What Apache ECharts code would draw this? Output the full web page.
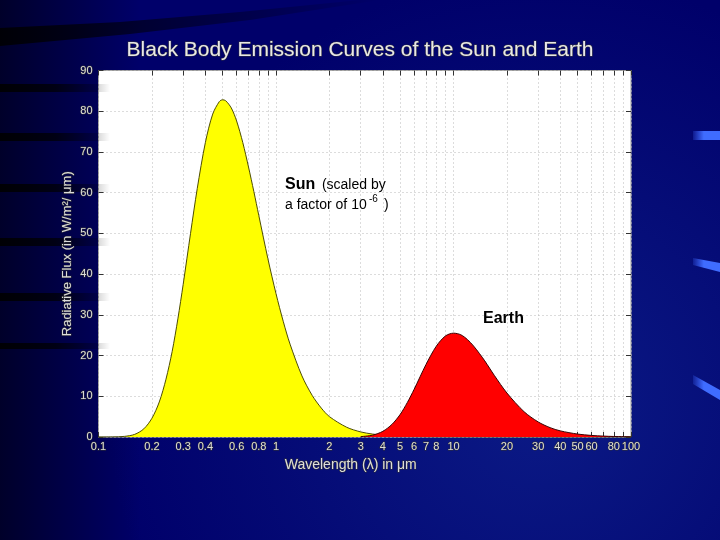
<!DOCTYPE html>
<html>
<head>
<meta charset="utf-8">
<script src="https://cdn.jsdelivr.net/npm/echarts@6/dist/echarts.min.js"></script>
<style>html,body{margin:0;padding:0;background:#00006e;}#chart{width:720px;height:540px;}</style>
</head>
<body>
<div id="chart"></div>
<script>
// ---- data ----
var sunWavelength = [0.1, 0.12, 0.14, 0.16, 0.18, 0.2, 0.22, 0.24, 0.26, 0.28, 0.3, 0.33, 0.36, 0.4, 0.44, 0.48, 0.5, 0.52, 0.56, 0.6, 0.65, 0.7, 0.75, 0.8, 0.9, 1.0, 1.1, 1.2, 1.4, 1.6, 1.8, 2, 2.5, 3, 3.5, 4, 5, 6, 8, 10, 20, 50, 100];
var sunFlux = [0.0, 0.02, 0.15, 0.65, 2.0, 4.6, 8.6, 14.2, 21.0, 29.0, 37.5, 50.0, 61.0, 72.3, 79.3, 82.4, 82.8, 82.6, 80.8, 77.6, 72.3, 66.3, 60.3, 54.4, 43.8, 35.2, 28.3, 22.8, 15.0, 10.2, 7.1, 5.0, 2.4, 1.25, 0.72, 0.44, 0.19, 0.095, 0.031, 0.013, 0.001, 0.0, 0.0];
var earthWavelength = [3, 3.5, 4, 4.5, 5, 5.5, 6, 7, 8, 9, 10, 11, 12, 13, 14, 15, 17, 20, 25, 30, 35, 40, 50, 60, 70, 80, 100];
var earthFlux = [0.09, 0.45, 1.4, 3.1, 5.5, 8.5, 11.7, 17.8, 22.3, 24.8, 25.5, 25.1, 23.9, 22.3, 20.5, 18.7, 15.1, 10.8, 6.2, 3.7, 2.3, 1.5, 0.72, 0.38, 0.22, 0.13, 0.06];
var xTickLabels = [0.1, 0.2, 0.3, 0.4, 0.6, 0.8, 1, 2, 3, 4, 5, 6, 7, 8, 10, 20, 30, 40, 50, 60, 80, 100];
var xMinorTicks = [0.1, 0.2, 0.3, 0.4, 0.5, 0.6, 0.7, 0.8, 0.9, 1, 2, 3, 4, 5, 6, 7, 8, 9, 10, 20, 30, 40, 50, 60, 70, 80, 90, 100];
var yTicks = [0, 10, 20, 30, 40, 50, 60, 70, 80, 90];

var chart = echarts.init(document.getElementById('chart'), null, {renderer: 'canvas'});

function pairs(xs, ys) { return xs.map(function (x, i) { return [x, ys[i]]; }); }
function lg(v) { return Math.log10(v); }
function fmtX(v) { return String(parseFloat(Math.pow(10, v).toPrecision(3))); }

var FONT = 'Liberation Sans, Arial, sans-serif';
var labelStyle = {
  color: '#dcdcdc', fontFamily: FONT, fontSize: 11,
  textBorderColor: '#333', textBorderWidth: 1
};

var GL = 98.5, GR = 631, GT = 70.5, GB = 437;

var option = {
  backgroundColor: '#00006e',
  animation: false,
  title: {
    text: 'Black Body Emission Curves of the Sun and Earth',
    left: 'center', top: 35,
    textStyle: {
      color: '#e8e8e8', fontFamily: FONT, fontSize: 21, fontWeight: 'normal',
      textBorderColor: '#3a3a3a', textBorderWidth: 1
    }
  },
  grid: {
    left: GL, right: 720 - GR, top: GT, bottom: 540 - GB,
    show: true, backgroundColor: '#ffffff', borderColor: '#9a9a9a', borderWidth: 1
  },
  xAxis: [
    { // data axis (log scale)
      type: 'log', logBase: 10, min: 0.1, max: 100,
      axisLine: {show: false, onZero: false}, axisTick: {show: false}, axisLabel: {show: false}, splitLine: {show: false}
    },
    { // bottom tick/label axis, positioned in log10 space
      type: 'value', min: -1, max: 2, position: 'bottom',
      name: 'Wavelength (λ) in μm', nameLocation: 'middle', nameGap: 20,
      nameTextStyle: Object.assign({}, labelStyle, {fontSize: 14, padding: [0, 28, 0, 0]}),
      axisLine: {show: false, onZero: false},
      axisTick: {show: true, inside: true, length: 5, customValues: xMinorTicks.map(lg), lineStyle: {color: '#333'}},
      axisLabel: Object.assign({}, labelStyle, {customValues: xTickLabels.map(lg), formatter: fmtX, margin: 4, showMinLabel: true, showMaxLabel: true}),
      splitLine: {show: true, lineStyle: {color: '#b8b8b8', type: [1, 3], width: 1}}
    },
    { // top ticks
      type: 'value', min: -1, max: 2, position: 'top',
      axisLine: {show: false, onZero: false},
      axisTick: {show: true, inside: true, length: 5, customValues: xMinorTicks.map(lg), lineStyle: {color: '#333'}},
      axisLabel: {show: false}, splitLine: {show: false}
    }
  ],
  yAxis: [
    {
      type: 'value', min: 0, max: 90, interval: 10, position: 'left',
      name: 'Radiative Flux (in W/m²/ μm)', nameLocation: 'middle', nameGap: 25, nameRotate: 90,
      nameMoveOverlap: false,
      nameTextStyle: Object.assign({}, labelStyle, {fontSize: 13}),
      axisLine: {show: false, onZero: false},
      axisTick: {show: true, inside: true, length: 5, lineStyle: {color: '#333'}},
      axisLabel: Object.assign({}, labelStyle, {margin: 6}),
      splitLine: {show: true, lineStyle: {color: '#b8b8b8', type: [1, 3], width: 1}}
    },
    {
      type: 'value', min: 0, max: 90, interval: 10, position: 'right',
      axisLine: {show: false, onZero: false},
      axisTick: {show: true, inside: true, length: 5, lineStyle: {color: '#333'}},
      axisLabel: {show: false}, splitLine: {show: false}
    }
  ],
  series: [
    {
      name: 'Sun', type: 'line', xAxisIndex: 0, yAxisIndex: 0,
      data: pairs(sunWavelength, sunFlux), smooth: 0.3, showSymbol: false,
      lineStyle: {color: '#4d4d00', width: 1},
      areaStyle: {color: '#ffff00', opacity: 1}, z: 3
    },
    {
      name: 'Earth', type: 'line', xAxisIndex: 0, yAxisIndex: 0,
      data: pairs(earthWavelength, earthFlux), smooth: 0.3, showSymbol: false,
      lineStyle: {color: '#3a0000', width: 1},
      areaStyle: {color: '#ff0000', opacity: 1}, z: 4
    }
  ],
  graphic: [
    // background shading
    {type: 'rect', z: -20, silent: true, shape: {x: 0, y: 0, width: 720, height: 540},
     style: {fill: new echarts.graphic.RadialGradient(0.75, 0.75, 0.8, [{offset: 0, color: '#0b1a86'}, {offset: 1, color: '#00006a'}])}},
    {type: 'rect', z: -19, silent: true, shape: {x: 0, y: 0, width: 140, height: 540},
     style: {fill: new echarts.graphic.LinearGradient(0, 0, 1, 0, [{offset: 0, color: 'rgba(0,0,20,0.75)'}, {offset: 1, color: 'rgba(0,0,20,0)'}])}},
    {type: 'polygon', z: -18, silent: true, shape: {points: [[0, 28], [120, 22], [240, 12], [360, 0], [380, 0], [250, 20], [130, 34], [0, 46]]},
     style: {fill: new echarts.graphic.LinearGradient(0, 0, 1, 0, [{offset: 0, color: 'rgba(0,0,0,0.85)'}, {offset: 1, color: 'rgba(0,0,0,0)'}])}},
    {type: 'group', z: -18, silent: true, children: [84, 133, 184, 238, 293, 343].map(function (y, i) {
      return {type: 'rect', shape: {x: 0, y: y, width: 110, height: i === 5 ? 6 : 8},
        style: {fill: new echarts.graphic.LinearGradient(0, 0, 1, 0, [{offset: 0, color: 'rgba(0,0,0,0.9)'}, {offset: 0.5, color: 'rgba(0,0,0,0.7)'}, {offset: 1, color: 'rgba(0,0,0,0)'}])}};
    })},
    // bright blue bars on the right
    {type: 'polygon', z: -17, silent: true, shape: {points: [[693, 131], [720, 131], [720, 140], [693, 140]]},
     style: {fill: new echarts.graphic.LinearGradient(0, 0, 1, 0, [{offset: 0, color: 'rgba(60,100,255,0.2)'}, {offset: 0.4, color: '#3f6cff'}, {offset: 1, color: '#3f6cff'}])}},
    {type: 'polygon', z: -17, silent: true, shape: {points: [[693, 258], [720, 263], [720, 272], [693, 265]]},
     style: {fill: new echarts.graphic.LinearGradient(0, 0, 1, 0, [{offset: 0, color: 'rgba(60,100,255,0.2)'}, {offset: 0.4, color: '#3f6cff'}, {offset: 1, color: '#3f6cff'}])}},
    {type: 'polygon', z: -17, silent: true, shape: {points: [[693, 375], [720, 390], [720, 400], [693, 384]]},
     style: {fill: new echarts.graphic.LinearGradient(0, 0, 1, 0, [{offset: 0, color: 'rgba(60,100,255,0.2)'}, {offset: 0.4, color: '#3f6cff'}, {offset: 1, color: '#3f6cff'}])}},
    // annotations
    {type: 'text', z: 100, left: 285, top: 177, silent: true,
     style: {text: '{b|Sun}  {n|(scaled by}', rich: {
       b: {fontFamily: FONT, fontWeight: 'bold', fontSize: 16, fill: '#000'},
       n: {fontFamily: FONT, fontSize: 14, fill: '#000'}}}},
    {type: 'text', z: 100, left: 285, top: 198, silent: true,
     style: {text: 'a factor of 10', fontFamily: FONT, fontSize: 14, fill: '#000'}},
    {type: 'text', z: 100, left: 369, top: 194, silent: true,
     style: {text: '-6', fontFamily: FONT, fontSize: 10, fill: '#000'}},
    {type: 'text', z: 100, left: 384, top: 198, silent: true,
     style: {text: ')', fontFamily: FONT, fontSize: 14, fill: '#000'}},
    {type: 'text', z: 100, left: 483, top: 311, silent: true,
     style: {text: 'Earth', fontFamily: FONT, fontWeight: 'bold', fontSize: 16, fill: '#000'}}
  ]
};
chart.setOption(option);
</script>
</body>
</html>
